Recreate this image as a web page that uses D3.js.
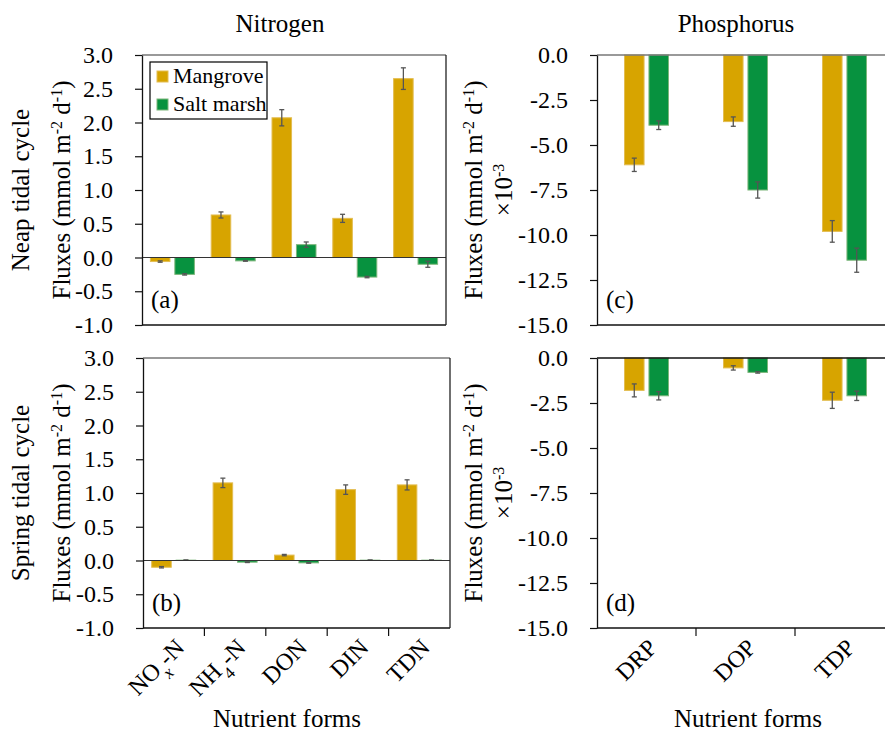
<!DOCTYPE html>
<html>
<head>
<meta charset="utf-8">
<script src="https://cdn.jsdelivr.net/npm/d3@7"></script>
</head>
<body style="margin:0;background:#fff">
<svg id="chart" width="885" height="733"></svg>
<script>
'use strict';

// categories
var nForms = ["NOx-N", "NH4-N", "DON", "DIN", "TDN"];
var pForms = ["DRP", "DOP", "TDP"];
var sites = ["Mangrove", "Salt marsh"];

// neap tidal cycle, nitrogen (mmol m-2 d-1)
var neapN_mangrove    = [-0.06, 0.63, 2.07, 0.58, 2.65];
var neapN_mangroveErr = [0.01, 0.045, 0.12, 0.06, 0.16];
var neapN_salt        = [-0.25, -0.05, 0.19, -0.29, -0.10];
var neapN_saltErr     = [0.01, 0.005, 0.04, 0.01, 0.045];

// spring tidal cycle, nitrogen
var springN_mangrove    = [-0.10, 1.15, 0.08, 1.05, 1.12];
var springN_mangroveErr = [0.01, 0.07, 0.01, 0.07, 0.075];
var springN_salt        = [0.005, -0.025, -0.035, 0.005, 0.005];
var springN_saltErr     = [0.003, 0.005, 0.005, 0.003, 0.003];

// neap tidal cycle, phosphorus (x10-3)
var neapP_mangrove    = [-6.1, -3.7, -9.8];
var neapP_mangroveErr = [0.37, 0.26, 0.6];
var neapP_salt        = [-3.9, -7.5, -11.4];
var neapP_saltErr     = [0.24, 0.45, 0.67];

// spring tidal cycle, phosphorus (x10-3)
var springP_mangrove    = [-1.8, -0.55, -2.35];
var springP_mangroveErr = [0.36, 0.12, 0.45];
var springP_salt        = [-2.1, -0.8, -2.1];
var springP_saltErr     = [0.23, 0.04, 0.26];

// tick values
var nTicks = [-1.0, -0.5, 0.0, 0.5, 1.0, 1.5, 2.0, 2.5, 3.0];
var pTicks = [-15.0, -12.5, -10.0, -7.5, -5.0, -2.5, 0.0];

var colors = {"Mangrove": "#d7a400", "Salt marsh": "#07923f"};
var strokes = {"Mangrove": "#e3bd52", "Salt marsh": "#7db67a"};
var FONT = "'Liberation Serif', 'Times New Roman', serif";

var svg = d3.select("#chart").style("font-family", FONT);

// text helper, font set inline on every label
var label = function(sel, size) {
  return sel.append("text").style("font-family", FONT).style("font-size", size + "px").attr("fill", "#000");
};

// draws one panel of grouped bars
var panel = function(o) {
  var g = svg.append("g");
  var x = d3.scaleBand().domain(o.cats).range([o.x0, o.x1]);
  var y = d3.scaleLinear().domain(o.domain).range([o.y1, o.y0]);
  var sub = d3.scaleBand().domain(sites).range([-22, 22]).paddingInner(0.2);

  var rows = [];
  o.cats.forEach(function(c, i) {
    rows.push({cat: c, site: "Mangrove", v: o.m[i], e: o.me[i]});
    rows.push({cat: c, site: "Salt marsh", v: o.s[i], e: o.se[i]});
  });

  var cx = function(d) { return x(d.cat) + x.bandwidth() / 2 + sub(d.site); };

  g.selectAll("rect.bar")
    .data(rows)
    .enter().append("rect")
      .attr("class", "bar")
      .attr("x", cx)
      .attr("y", function(d) { return Math.min(y(d.v), y(0)); })
      .attr("width", sub.bandwidth())
      .attr("height", function(d) { return Math.abs(y(d.v) - y(0)); })
      .attr("fill", function(d) { return colors[d.site]; })
      .attr("stroke", function(d) { return strokes[d.site]; })
      .attr("stroke-width", 1);

  // error bars
  var eb = g.selectAll("g.err").data(rows).enter().append("g").attr("class", "err")
    .attr("stroke", "#555").attr("stroke-width", 1.3);
  var mid = function(d) { return cx(d) + sub.bandwidth() / 2; };
  eb.append("line")
    .attr("x1", mid).attr("x2", mid)
    .attr("y1", function(d) { return y(d.v - d.e); })
    .attr("y2", function(d) { return y(d.v + d.e); });
  [-1, 1].forEach(function(sgn) {
    eb.append("line")
      .attr("x1", function(d) { return mid(d) - 2.5; })
      .attr("x2", function(d) { return mid(d) + 2.5; })
      .attr("y1", function(d) { return y(d.v + sgn * d.e); })
      .attr("y2", function(d) { return y(d.v + sgn * d.e); });
  });

  // zero line
  if (o.zero) {
    g.append("line")
      .attr("x1", o.x0).attr("x2", o.x1)
      .attr("y1", y(0)).attr("y2", y(0))
      .attr("stroke", "#333").attr("stroke-width", 1.2);
  }

  // frame
  g.append("line").attr("x1", o.x0).attr("x2", o.x1).attr("y1", o.y0).attr("y2", o.y0)
    .attr("stroke", o.topColor).attr("stroke-width", 1.3);
  g.append("line").attr("x1", o.x0).attr("x2", o.x1).attr("y1", o.y1).attr("y2", o.y1)
    .attr("stroke", "#111").attr("stroke-width", 1.3);
  g.append("line").attr("x1", o.x1).attr("x2", o.x1).attr("y1", o.y0).attr("y2", o.y1)
    .attr("stroke", "#222").attr("stroke-width", 1.3);

  // y axis
  var ax = g.append("g")
    .attr("transform", "translate(" + o.x0 + ",0)")
    .call(d3.axisLeft(y).tickValues(o.ticks).tickSize(7).tickSizeOuter(0).tickPadding(22)
      .tickFormat(function(d) { return d.toFixed(1); }));
  ax.attr("font-family", null).attr("font-size", null);
  ax.select(".domain").attr("stroke", "#111").attr("stroke-width", 1.3);
  ax.selectAll(".tick line").attr("stroke", "#111").attr("stroke-width", 1.2);
  ax.selectAll(".tick text").style("font-family", FONT).style("font-size", "24px").attr("fill", "#000");

  // category ticks between bands
  if (o.xlabels) {
    g.selectAll("line.xt")
      .data(o.cats.slice(1))
      .enter().append("line")
        .attr("class", "xt")
        .attr("x1", function(c) { return x(c); })
        .attr("x2", function(c) { return x(c); })
        .attr("y1", o.y1).attr("y2", o.y1 + 8)
        .attr("stroke", "#111").attr("stroke-width", 1.2);

    o.cats.forEach(function(c) {
      var t = label(g, 24)
        .attr("text-anchor", "end")
        .attr("transform", "translate(" + (x(c) + x.bandwidth() / 2 + 12) + "," + (o.y1 + 21) + ") rotate(-45)");
      if (c === "NOx-N") {
        t.append("tspan").text("NO");
        t.append("tspan").text("x").style("font-style", "italic").attr("baseline-shift", "sub").style("font-size", "17px");
        t.append("tspan").text("-N");
      } else if (c === "NH4-N") {
        t.append("tspan").text("NH");
        t.append("tspan").text("4").attr("baseline-shift", "sub").style("font-size", "17px");
        t.append("tspan").text("-N");
      } else {
        t.text(c);
      }
    });
  }

  // panel letter
  label(g, 25).attr("x", o.x0 + 9).attr("y", o.y1 - 17).text(o.letter);

  return g;
};

// y axis title with superscripts
var fluxLabel = function(t) {
  t.append("tspan").text("Fluxes (mmol m");
  t.append("tspan").text("-2").attr("baseline-shift", "super").style("font-size", "16px");
  t.append("tspan").text(" d");
  t.append("tspan").text("-1").attr("baseline-shift", "super").style("font-size", "16px");
  t.append("tspan").text(")");
};

var timesTen = function(t) {
  t.append("tspan").text("\u00d710");
  t.append("tspan").text("-3").attr("baseline-shift", "super").style("font-size", "16px");
};

var yTitle = function(xpos, ypos, fn) {
  var t = label(svg, 25)
    .attr("text-anchor", "middle")
    .attr("transform", "translate(" + xpos + "," + ypos + ") rotate(-90)");
  fn(t);
};

panel({cats: nForms, x0: 142, x1: 446, y0: 55, y1: 325, domain: [-1, 3], ticks: nTicks,
  m: neapN_mangrove, me: neapN_mangroveErr, s: neapN_salt, se: neapN_saltErr,
  zero: true, topColor: "#777", xlabels: false, letter: "(a)"});
panel({cats: nForms, x0: 143, x1: 450, y0: 358, y1: 628, domain: [-1, 3], ticks: nTicks,
  m: springN_mangrove, me: springN_mangroveErr, s: springN_salt, se: springN_saltErr,
  zero: true, topColor: "#777", xlabels: true, letter: "(b)"});
panel({cats: pForms, x0: 597, x1: 894, y0: 55, y1: 325, domain: [-15, 0], ticks: pTicks,
  m: neapP_mangrove, me: neapP_mangroveErr, s: neapP_salt, se: neapP_saltErr,
  zero: false, topColor: "#777", xlabels: false, letter: "(c)"});
panel({cats: pForms, x0: 597, x1: 894, y0: 358, y1: 628, domain: [-15, 0], ticks: pTicks,
  m: springP_mangrove, me: springP_mangroveErr, s: springP_salt, se: springP_saltErr,
  zero: false, topColor: "#111", xlabels: true, letter: "(d)"});

// left titles
yTitle(29, 190, function(t) { t.text("Neap tidal cycle"); });
yTitle(70, 190, fluxLabel);
yTitle(29, 493, function(t) { t.text("Spring tidal cycle"); });
yTitle(70, 493, fluxLabel);
// right titles
yTitle(482, 190, fluxLabel);
yTitle(512, 190, timesTen);
yTitle(482, 493, fluxLabel);
yTitle(512, 493, timesTen);

label(svg, 25).attr("x", 280).attr("y", 32).attr("text-anchor", "middle").text("Nitrogen");
label(svg, 25).attr("x", 736).attr("y", 32).attr("text-anchor", "middle").text("Phosphorus");
label(svg, 25).attr("x", 287).attr("y", 727).attr("text-anchor", "middle").text("Nutrient forms");
label(svg, 25).attr("x", 748).attr("y", 727).attr("text-anchor", "middle").text("Nutrient forms");

// legend
var leg = svg.append("g");
leg.append("rect").attr("x", 150).attr("y", 62).attr("width", 117).attr("height", 57)
  .attr("fill", "#fff").attr("stroke", "#000").attr("stroke-width", 1.2);
sites.forEach(function(s, i) {
  leg.append("rect").attr("x", 157).attr("y", 71 + i * 28).attr("width", 11).attr("height", 11)
    .attr("fill", colors[s]).attr("stroke", strokes[s]);
  label(leg, 22).attr("x", 173).attr("y", 83 + i * 28).text(s);
});
</script>
</body>
</html>
